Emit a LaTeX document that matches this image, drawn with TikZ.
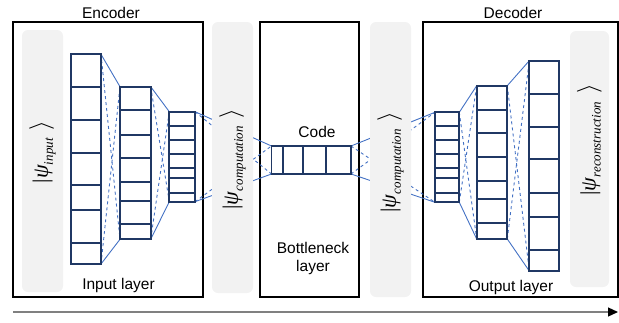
\documentclass[tikz,border=0pt]{standalone}
\usepackage{fontspec}
\setmainfont{Liberation Sans}
\newfontfamily\ketfont{Liberation Serif}
\usetikzlibrary{arrows.meta}
\definecolor{navy}{HTML}{203864}
\definecolor{linkblue}{HTML}{4472C4}
\definecolor{pillgray}{HTML}{F2F2F2}
\newcommand{\ketlabel}[1]{|\textit{ψ}\raisebox{-5pt}{\fontsize{13}{13}\selectfont\itshape #1}\hspace{8pt}{\fontsize{30}{30}\selectfont$\rangle$}}
\tikzset{
  box/.style={draw=black, line width=1.6pt, inner sep=0pt, outer sep=0pt, anchor=north west},
  layer/.style={draw=navy, line width=1.8pt, inner sep=0pt, outer sep=0pt, anchor=north west},
  cell/.style={draw=navy, line width=1.8pt},
  link/.style={draw=linkblue, line width=0.9pt},
  pill/.style={fill=pillgray, rounded corners=6pt, inner sep=0pt, outer sep=0pt, anchor=north west},
  lab/.style={font=\fontsize{15.5}{18}\selectfont, inner sep=0pt},
  ket/.style={font=\ketfont\fontsize{22}{24}\selectfont, rotate=90, inner sep=0pt}
}
\begin{document}
\begin{tikzpicture}[x=1pt,y=-1pt]
    \useasboundingbox (0,0) rectangle (619,322);

    % Outer boxes
    \node[box, minimum width=190pt, minimum height=275pt] (enc) at (13,22) {};
    \node[box, minimum width=99pt, minimum height=275pt] (bott) at (260,22) {};
    \node[box, minimum width=195pt, minimum height=275pt] (dec) at (423,22) {};

    % Layers (drawn empty first, cells added later)
    \node[layer, minimum width=30.3pt, minimum height=209.7pt] (in1) at (70.7,54.3) {};
    \node[layer, minimum width=30.7pt, minimum height=152.6pt] (in2) at (120,86.7) {};
    \node[layer, minimum width=25.7pt, minimum height=90pt] (in3) at (169.3,111.7) {};
    \node[layer, minimum width=79.5pt, minimum height=28pt] (code) at (271.5,146) {};
    \node[layer, minimum width=24.3pt, minimum height=90pt] (out1) at (435,112.3) {};
    \node[layer, minimum width=30.6pt, minimum height=153.3pt] (out2) at (476.7,85.7) {};
    \node[layer, minimum width=30pt, minimum height=210.3pt] (out3) at (529.3,60.7) {};

    % Links between layers
    \foreach \a/\b in {in1/in2, in2/in3, in3/code, code/out1, out1/out2, out2/out3} {
        \draw[link] (\a.north east) -- (\b.north west);
        \draw[link] (\a.south east) -- (\b.south west);
        \draw[link, dashed] (\a.north east) -- (\b.south west);
        \draw[link, dashed] (\a.south east) -- (\b.north west);
    }

    % State pills (cover the links)
    \node[pill, minimum width=41pt, minimum height=262pt] (p1) at (22,30) {};
    \node[pill, minimum width=41pt, minimum height=271pt] (p2) at (212,22) {};
    \node[pill, minimum width=41pt, minimum height=275pt] (p3) at (370,22) {};
    \node[pill, minimum width=39pt, minimum height=256pt] (p4) at (570,31) {};

    % Layers again on top
    \foreach \n in {in1, in2, in3, code, out1, out2, out3}
        \draw[cell] (\n.north west) rectangle (\n.south east);

    % Cells
    \foreach \y in {87.3,120,152.7,185,210,242.7}
        \draw[cell] (70.7,\y) -- ++(30.3,0);
    \foreach \y in {110,135,158.3,182.3,200.7,224.3}
        \draw[cell] (120,\y) -- ++(30.7,0);
    \foreach \y in {126,140,154,167.7,178.3,192.7}
        \draw[cell] (169.3,\y) -- ++(25.7,0);
    \foreach \x in {283,303,326}
        \draw[cell] (\x,146) -- ++(0,28);
    \foreach \y in {126,140,154.3,168.3,178.3,193.3}
        \draw[cell] (435,\y) -- ++(24.3,0);
    \foreach \y in {110,133.3,156.7,181,199.3,223.3}
        \draw[cell] (476.7,\y) -- ++(30.6,0);
    \foreach \y in {94,126.7,159.3,192.7,216.7,250}
        \draw[cell] (529.3,\y) -- ++(30,0);

    % Kets
    \node[ket] (k1) at (42.5,152) {\ketlabel{input}};
    \node[ket] (k2) at (232.5,159) {\ketlabel{computation}};
    \node[ket] (k3) at (390.5,162) {\ketlabel{computation}};
    \node[ket] (k4) at (589.5,140) {\ketlabel{reconstruction}};

    % Texts
    \node[lab, anchor=base] (tenc) at (111,18.5) {Encoder};
    \node[lab, anchor=base] (tdec) at (513,18.5) {Decoder};
    \node[lab, anchor=base] (tcode) at (317,137) {Code};
    \node[lab, anchor=base, align=center] (tbott) at (313,271) {Bottleneck\\layer};
    \node[lab, anchor=base] (tin) at (118.5,289) {Input layer};
    \node[lab, anchor=base] (tout) at (511,291) {Output layer};

    % Direction arrow
    \coordinate (a0) at (13,312);
    \coordinate (a1) at (618,312);
    \draw[gray, line width=1.2pt, -{Triangle[black, length=10pt, width=9pt]}] (a0) -- (a1);
\end{tikzpicture}
\end{document}
